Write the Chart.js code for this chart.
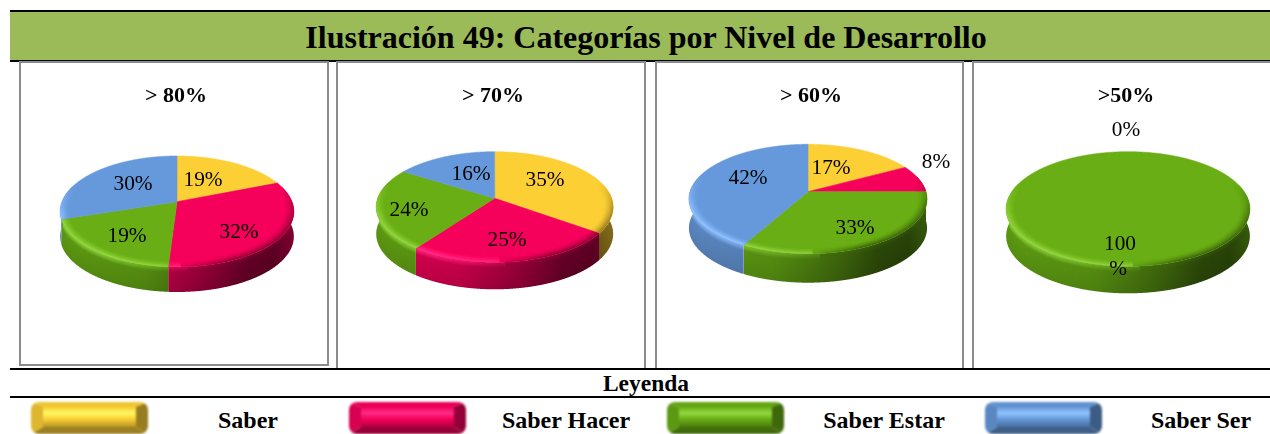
<!DOCTYPE html>
<html lang="es">
<head>
<meta charset="utf-8">
<title>Categorías por Nivel de Desarrollo</title>
<script src="https://cdn.jsdelivr.net/npm/chart.js@4"></script>
<style>
html,body{margin:0;padding:0;background:#fff;width:1270px;height:434px;overflow:hidden;font-family:"Liberation Serif",serif;color:#000}
.abs{position:absolute}
#band{left:10px;top:10px;width:1260px;height:52px;background:#9BBB59;border-top:2px solid #000;border-bottom:2px solid #000;box-sizing:border-box;text-align:center;font-weight:bold;font-size:32px;line-height:50px;}
#band span{position:absolute;left:0;width:1272px;top:0;white-space:nowrap}
.hl{background:#000;left:10px;width:1260px}
.lab{font-weight:bold;font-size:24px;white-space:nowrap;transform:translateX(-50%);line-height:24px}
.sw{box-sizing:border-box;border-style:solid;border-radius:8px;filter:blur(1px)}
canvas{position:absolute;filter:blur(.3px)}
</style>
</head>
<body>
<div class="abs" id="band"><span id="mainTitle"></span></div>
<div id="frames"></div>
<div id="charts"></div>
<div class="abs hl" style="top:368px;height:2px"></div>
<div class="abs hl" style="top:396px;height:2px"></div>
<div class="abs lab" id="legendTitle" style="left:646px;top:371px;font-size:23.5px"></div>
<div id="legend"></div>
<script>
const mainTitle = 'Ilustración 49: Categorías por Nivel de Desarrollo';
const legendTitle = 'Leyenda';
const categories = ['Saber', 'Saber Hacer', 'Saber Estar', 'Saber Ser'];
const colours = ['#FCCF35', '#F5005B', '#69AE14', '#6699DB'];
const panelTitles = ['> 80%', '> 70%', '> 60%', '>50%'];
const values80 = [19, 32, 19, 30];
const values70 = [35, 25, 24, 16];
const values60 = [17, 8, 33, 42];
const values50 = [0, 0, 100, 0];

// layout only
const canvasLefts = [26, 343, 661, 976];
const canvasTop = 63;
const pieGeo = [
  {cx:177, ay:201.7, far:45.7, near:65.3, b:115, d:25},
  {cx:494.7, ay:198.3, far:46.6, near:64, b:117, d:27},
  {cx:808, ay:191.7, far:47.4, near:62, b:118, d:29},
  {cx:1128, ay:200.5, far:48.8, near:65.8, b:120.5, d:27}
];
const labelSpots = [
  [[203,179],[239,231],[127,235],[133,183]],
  [[545,179],[507,239],[409,209],[471,173]],
  [[831,167],[936,161],[855,227],[748,177]],
  [[1126,129],null,[1120,243],null]
];
const legendSwatchX = [31, 349, 667, 985];
const legendLabelX = [248, 566, 884, 1201];

document.getElementById('mainTitle').textContent = mainTitle;
document.getElementById('legendTitle').textContent = legendTitle;

function rgb(hex){return [1,3,5].map(i=>parseInt(hex.substr(i,2),16));}
function css(c){return 'rgb('+c.map(v=>Math.max(0,Math.min(255,Math.round(v)))).join(',')+')';}
function mul(c,s){return c.map(v=>v*s);}
function mix(a,b,t){return a.map((v,i)=>v+(b[i]-v)*t);}
function bright(c){return mix(c.map(v=>v*1.12+18),[255,255,255],.12);}
const clamp=(v,a,b)=>Math.max(a,Math.min(b,v));

function project(g,left,X,Z,depth){
  const k=(g.near-g.far)/(g.near+g.far), a=g.far*(1+k), den=1+k*Z;
  return [g.cx-left+g.b*X/den, g.ay-canvasTop-a*Z/den+depth];
}
function sideShade(h){
  const p=[[-1,.88],[-.3,.8],[.2,.6],[.6,.4],[.85,.38],[1,.52]];
  for(let i=1;i<p.length;i++){ if(h<=p[i][0]){const t=(h-p[i-1][0])/(p[i][0]-p[i-1][0]);return p[i-1][1]+(p[i][1]-p[i-1][1])*t;} }
  return .52;
}
const STEP=Math.PI/720;

function drawSides(ctx,arc,g,left,col){
  const s=arc.startAngle+Math.PI/2, e=arc.endAngle+Math.PI/2;
  const pts=[];
  for(let th=s;th<e+STEP/2;th+=STEP){
    const tt=Math.min(th,e);
    if(Math.cos(tt)>0.3) continue;
    pts.push(project(g,left,Math.sin(tt),Math.cos(tt),0));
  }
  if(pts.length<2) return;
  ctx.save();
  ctx.beginPath();
  pts.forEach((p,i)=>i?ctx.lineTo(p[0],p[1]):ctx.moveTo(p[0],p[1]));
  for(let i=pts.length-1;i>=0;i--) ctx.lineTo(pts[i][0],pts[i][1]+g.d);
  ctx.closePath();
  ctx.clip();
  const cols=new Map();
  pts.forEach(p=>{const x=Math.floor(p[0]);if(!cols.has(x)||p[1]>cols.get(x)) cols.set(x,p[1]);});
  cols.forEach((y,x)=>{
    const h=(x+.5+left-g.cx)/g.b, sh=sideShade(h);
    const gr=ctx.createLinearGradient(0,y,0,y+g.d);
    const base=mul(col,sh);
    const top=h<.1?mix(base,bright(col),clamp(.3-h*.7,0,.75)):mix(base,mul(col,.62),.4);
    gr.addColorStop(0,css(top));
    gr.addColorStop(.2,css(base));
    gr.addColorStop(1,css(mul(base,.92)));
    ctx.fillStyle=gr;
    ctx.fillRect(x,y-g.d,1,g.d*2+3);
  });
  ctx.restore();
}
function drawTop(ctx,arc,g,left,col){
  const s=arc.startAngle+Math.PI/2, e=arc.endAngle+Math.PI/2;
  if(e-s<1e-4) return;
  const full=e-s>6.28;
  ctx.save();
  ctx.beginPath();
  if(!full){const a=project(g,left,0,0,0);ctx.moveTo(a[0],a[1]);}
  for(let th=s;th<e+STEP/2;th+=STEP){
    const tt=Math.min(th,e),p=project(g,left,Math.sin(tt),Math.cos(tt),0);
    ctx.lineTo(p[0],p[1]);
  }
  ctx.closePath();
  ctx.fillStyle=css(col);ctx.fill();
  ctx.strokeStyle=css(col);ctx.lineWidth=.6;ctx.stroke();
  ctx.clip();
  // soft bevel along the front rim
  ctx.lineWidth=1.6;
  const seg=STEP*4;
  for(let j=0;j<7;j++){
    const r=.93+j*.0115, f=Math.pow((j+1)/7,1.6);
    for(let th=s;th<e;th+=seg){
      const t2=Math.min(th+seg*1.2,e), z=Math.cos(th);
      const w=clamp((.3-z)/.6,0,1); if(w<=0) continue;
      const p1=project(g,left,r*Math.sin(th),r*z,0),p2=project(g,left,r*Math.sin(t2),r*Math.cos(t2),0);
      const h=(p1[0]+left-g.cx)/g.b;
      const c=h<.05?mix(col,bright(col),f*w*clamp(.75-h*.4,0,1)):mix(col,mul(col,.6),f*w*clamp(h*2.2,0,1));
      ctx.strokeStyle=css(c);
      ctx.beginPath();ctx.moveTo(p1[0],p1[1]);ctx.lineTo(p2[0],p2[1]);ctx.stroke();
    }
  }
  ctx.restore();
}
const pie3d={
  id:'pie3d',
  beforeDatasetsDraw(chart,args,opts){
    const meta=chart.getDatasetMeta(0), g=pieGeo[opts.index], left=canvasLefts[opts.index], ctx=chart.ctx;
    meta.data.forEach((arc,i)=>{
      const col=rgb(colours[i]);
      if(arc.endAngle-arc.startAngle>1e-4) drawSides(ctx,arc,g,left,col);
      arc.draw=function(c){drawTop(c,arc,g,left,col);};
    });
  },
  afterDatasetsDraw(chart,args,opts){
    const ctx=chart.ctx, left=canvasLefts[opts.index], vals=chart.data.datasets[0].data;
    ctx.save();
    ctx.fillStyle='#000';ctx.font='21.3px "Liberation Serif"';ctx.textAlign='center';ctx.textBaseline='middle';
    labelSpots[opts.index].forEach((sp,i)=>{
      if(!sp) return;
      const y=sp[1]-canvasTop+1.5;
      if(vals[i]===100){
        ctx.fillText(String(vals[i]),sp[0]-left,y);
        ctx.fillText('%',sp[0]-left-2,y+25);
      } else ctx.fillText(vals[i]+'%',sp[0]-left,y);
    });
    ctx.restore();
  }
};

[values80,values70,values60,values50].forEach((vals,i)=>{
  const cv=document.createElement('canvas');
  cv.width=300;cv.height=300;cv.style.cssText='left:'+canvasLefts[i]+'px;top:'+canvasTop+'px;width:300px;height:300px';
  document.getElementById('charts').appendChild(cv);
  new Chart(cv,{
    type:'pie',
    data:{labels:categories,datasets:[{data:vals,backgroundColor:colours,borderWidth:0}]},
    options:{responsive:false,animation:false,
      plugins:{legend:{display:false},tooltip:{enabled:false},
        title:{display:true,text:panelTitles[i],color:'#000',font:{family:'"Liberation Serif"',size:22,weight:'bold'},padding:{top:20,bottom:5}},
        pie3d:{index:i}}},
    plugins:[pie3d]
  });
});

// panel frames
const frames=document.getElementById('frames');
function seg(l,t,w,h){const d=document.createElement('div');d.className='abs';d.style.cssText='left:'+l+'px;top:'+t+'px;width:'+w+'px;height:'+h+'px;background:#8c8c8c';frames.appendChild(d);}
seg(19,61,310,2);seg(19,61,2,305);seg(327,61,2,305);seg(19,364,310,2);
seg(336,61,309,2);seg(336,61,2,308);seg(644,61,2,308);
seg(655,61,308,2);seg(655,61,2,308);seg(962,61,2,308);
seg(972,61,298,2);seg(972,61,2,308);

// legend
const legend=document.getElementById('legend');
categories.forEach((name,i)=>{
  const c=rgb(colours[i]);
  const s=document.createElement('div');s.className='abs sw';
  s.style.cssText='left:'+legendSwatchX[i]+'px;top:402px;width:117px;height:32px;border-width:5px 12px 7px 12px;'+
    'border-top-color:'+css(mul(c,.95))+';border-left-color:'+css(mul(c,.88))+';border-right-color:'+css(mul(c,.6))+';border-bottom-color:'+css(mul(c,.62))+';'+
    'background:linear-gradient(180deg,'+css(mul(c,.98))+' 0%,'+css(bright(c))+' 30%,'+css(c)+' 60%,'+css(mul(c,.72))+' 100%)';
  legend.appendChild(s);
  const l=document.createElement('div');l.className='abs lab';l.textContent=name;
  l.style.cssText='left:'+legendLabelX[i]+'px;top:408px';
  legend.appendChild(l);
});
</script>
</body>
</html>
